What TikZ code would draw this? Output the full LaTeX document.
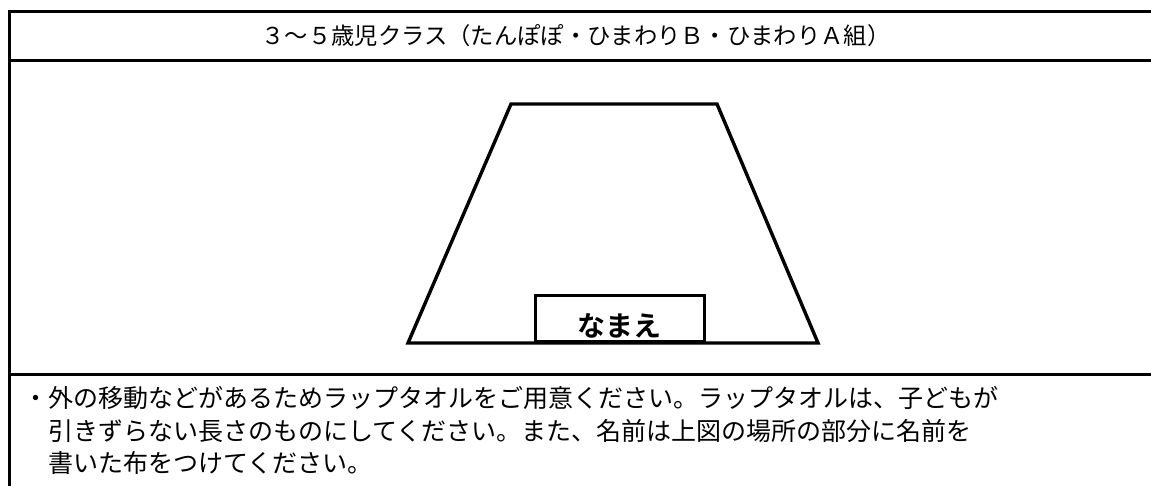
\documentclass[tikz,border=0pt]{standalone}
\usepackage{fontspec}
\newfontfamily\jp{Noto Sans CJK JP}
\newfontfamily\jpbold{Noto Sans CJK JP Bold}
\begin{document}
\begin{tikzpicture}[x=1pt,y=-1pt,
  frame/.style={line width=3pt},
  trap/.style={line width=3.4pt,line join=miter},
  namebox/.style={draw,line width=2.8pt,minimum width=169pt,minimum height=46pt,inner sep=0pt},
  hdr/.style={font=\jp\fontsize{23.3}{27}\selectfont,inner sep=0pt},
  body/.style={font=\jp\fontsize{25}{33}\selectfont,inner sep=0pt,anchor=base west}]
\useasboundingbox (0,0) rectangle (1151,486);
\fill[white] (0,0) rectangle (1151,486);
% frame
\coordinate (tl) at (9,12);
\coordinate (tr) at (1151,12);
\coordinate (bl) at (9,486);
\coordinate (m1l) at (9,61);
\coordinate (m1r) at (1151,61);
\coordinate (m2l) at (9,374);
\coordinate (m2r) at (1151,374);
\draw[frame] (tr) -- (tl) -- (bl);
\draw[frame] (m1l) -- (m1r);
\draw[frame] (m2l) -- (m2r);
% header
\node[hdr] (hd) at (576,36) {３～５歳児クラス（たんぽぽ・ひまわりＢ・ひまわりＡ組）};
% trapezoid
\coordinate (a) at (408,343);
\coordinate (b) at (511,104);
\coordinate (c) at (717,104);
\coordinate (d) at (818,343);
\draw[trap] (a) -- (b) -- (c) -- (d) -- cycle;
\node[namebox,anchor=south west] (nm) at (534,343) {};
\node[font=\jpbold\fontsize{28}{32}\selectfont,inner sep=0pt] (nt) at (619,326) {なまえ};
% body text
\node[body] (l1) at (23,407) {・外の移動などがあるためラップタオルをご用意ください。ラップタオルは、子どもが};
\node[body] (l2) at (48,440) {引きずらない長さのものにしてください。また、名前は上図の場所の部分に名前を};
\node[body] (l3) at (48,472) {書いた布をつけてください。};
\end{tikzpicture}
\end{document}
